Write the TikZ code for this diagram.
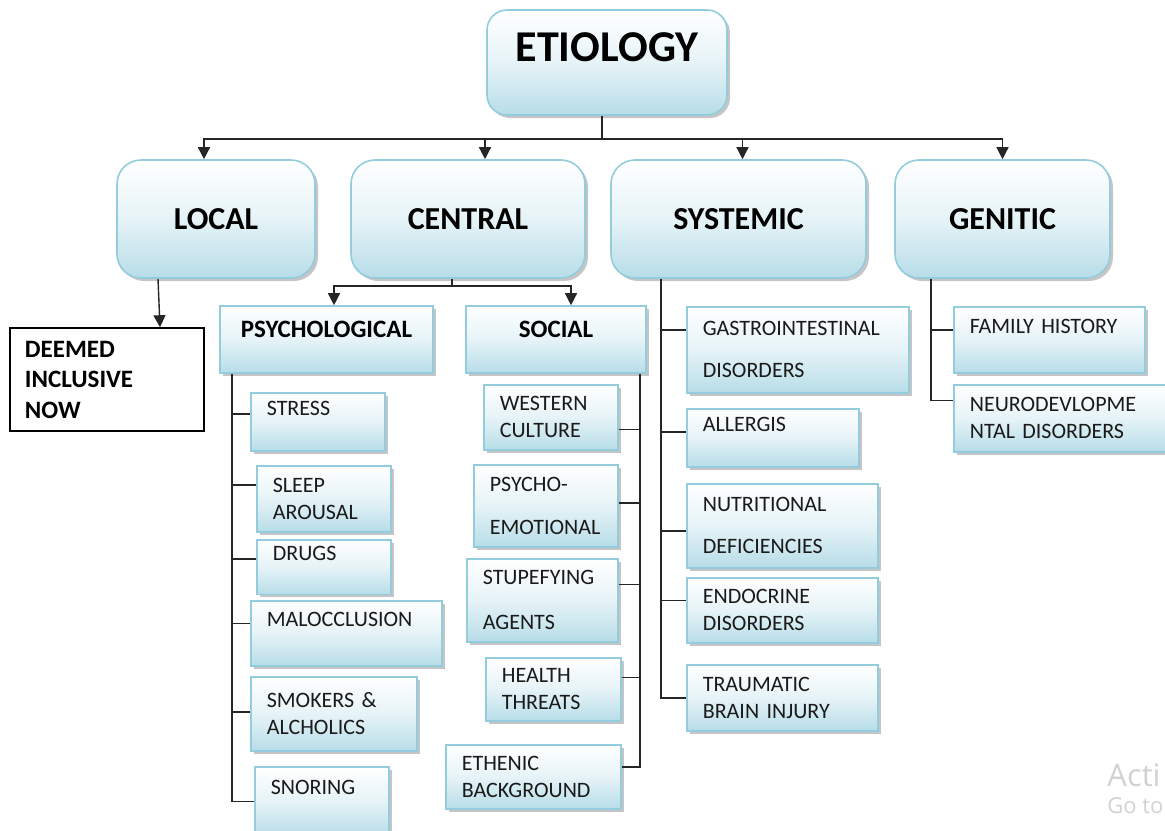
\documentclass[tikz,border=0pt]{standalone}
\usepackage{fontspec}
\setmainfont{Carlito}
\newfontfamily\wmfont{Open Sans}
\usetikzlibrary{arrows.meta,shadows}

\definecolor{boxblue}{HTML}{B7DDE8}
\definecolor{boxline}{HTML}{93CDDD}
\definecolor{leaftext}{HTML}{1A1A1A}

\tikzset{
  box/.style={draw=boxline, line width=0.8pt, top color=white, bottom color=boxblue, middle color=boxblue!35,
    drop shadow={shadow xshift=1.5pt, shadow yshift=-1.5pt, fill=black!45, opacity=0.5}},
  main/.style={box, rounded corners=12pt, minimum height=59pt, font=\fontsize{16}{19}\selectfont\bfseries},
  sub/.style={box, minimum height=33.5pt, text height=8pt, text depth=10pt, font=\fontsize{12.5}{15}\selectfont\bfseries},
  leaf/.style={box, anchor=north west, align=left, inner xsep=8pt, text=leaftext, font=\fontsize{11}{13.5}\selectfont},
  link/.style={line width=0.7pt, black!85},
  arr/.style={link, -{Triangle[length=6pt,width=6pt]}},
}

\begin{document}
\begin{tikzpicture}[x=0.5pt,y=-0.5pt]
    \useasboundingbox (0,0) rectangle (1165,830);
    \clip (0,0) rectangle (1165,830);

    \node[box, rounded corners=10pt, minimum width=120pt, minimum height=52.5pt, text height=14.2pt, text depth=15.5pt,
      font=\fontsize{22}{26}\selectfont\bfseries] (etio) at (607,62.5) {ETIOLOGY};

    \node[main, minimum width=99pt] (local) at (216,219) {LOCAL};
    \node[main, minimum width=117pt] (central) at (468,219) {CENTRAL};
    \node[main, minimum width=127.5pt] (systemic) at (738.5,219) {SYSTEMIC};
    \node[main, minimum width=107.5pt] (genitic) at (1002.5,219) {GENITIC};

    \node[draw, line width=0.8pt, fill=white, align=left, text width=82pt, inner xsep=7.5pt, minimum height=51.5pt,
      font=\fontsize{12.5}{15.25}\selectfont\bfseries] (deemed) at (107,379.5) {DEEMED\\INCLUSIVE\\NOW};

    \node[sub, minimum width=106.5pt] (psych) at (326.5,339.5) {PSYCHOLOGICAL};
    \node[sub, minimum width=90pt] (social) at (556,339.5) {SOCIAL};

    % psychological
    \node[leaf, text width=51pt, minimum height=29pt] (stress) at (250,392) {STRESS\\~};
    \node[leaf, text width=51pt, minimum height=33pt] (sleep) at (256,465) {SLEEP\\AROUSAL};
    \node[leaf, text width=51pt, minimum height=27pt] (drugs) at (256,539) {DRUGS\\~};
    \node[leaf, text width=79.5pt, minimum height=32.5pt] (malo) at (250,600) {MALOCCLUSION\\~};
    \node[leaf, text width=67pt, minimum height=37pt] (smokers) at (250,676) {SMOKERS~\&\\ALCHOLICS};
    \node[leaf, text width=51pt, minimum height=34.5pt] (snoring) at (254,766) {SNORING\\~};

    % social
    \node[leaf, text width=51pt, minimum height=32.5pt] (western) at (483,384) {WESTERN\\CULTURE};
    \node[leaf, text width=56pt, minimum height=41pt] (psyemo) at (473,464) {PSYCHO-\\[8pt]EMOTIONAL};
    \node[leaf, text width=59.5pt, minimum height=41.5pt] (stup) at (466,558) {STUPEFYING\\[9pt]AGENTS};
    \node[leaf, text width=51.5pt, minimum height=31.5pt] (health) at (485,657) {HEALTH\\THREATS};
    \node[leaf, text width=71.5pt, minimum height=32pt] (ethenic) at (445,744) {ETHENIC\\BACKGROUND};

    % systemic
    \node[leaf, text width=95pt, minimum height=43pt] (gastro) at (686,306) {GASTROINTESTINAL\\[7.5pt]DISORDERS};
    \node[leaf, text width=70pt, minimum height=29pt] (allergis) at (686,408) {ALLERGIS\\~};
    \node[leaf, text width=79.5pt, minimum height=42pt] (nutri) at (686,483) {NUTRITIONAL\\[7.5pt]DEFICIENCIES};
    \node[leaf, text width=79.5pt, minimum height=32.5pt] (endo) at (686,577) {ENDOCRINE\\DISORDERS};
    \node[leaf, text width=79.5pt, minimum height=33pt] (traum) at (686,664) {TRAUMATIC\\BRAIN~INJURY};

    % genitic
    \node[leaf, text width=79.5pt, minimum height=33pt] (family) at (953,306) {FAMILY~HISTORY\\~};
    \node[leaf, text width=94pt, minimum height=33.5pt] (neuro) at (953,384) {NEURODEVLOPME\\NTAL~DISORDERS};

    % connectors
    \draw[link] ([xshift=-2.5pt]etio.south) -- ++(0,23) coordinate (hub);
    \foreach \n/\s in {local/-6pt, central/8.5pt, systemic/2pt, genitic/0pt}
        \draw[arr] (hub) -| ([xshift=\s]\n.north);

    \draw[arr] ([xshift=-29pt]local.south) -- ([xshift=26.5pt]deemed.north);

    \draw[link] ([xshift=-8pt]central.south) -- ++(0,7) coordinate (chub);
    \draw[arr] (chub) -| ([xshift=3.75pt]psych.north);
    \draw[arr] (chub) -| ([xshift=7.5pt]social.north);

    \coordinate (ptrunk) at ([xshift=-47.25pt]psych.south);
    \draw[link] (ptrunk) |- (snoring.west);
    \foreach \n/\s in {stress/4pt, sleep/7pt, drugs/4pt, malo/5pt, smokers/1pt}
        \draw[link] ([yshift=\s]\n.west) -- ([yshift=\s]\n.west -| ptrunk);

    \coordinate (strunk) at ([xshift=42pt]social.south);
    \draw[link] (strunk) |- ([yshift=5pt]ethenic.east);
    \foreach \n/\s in {western/-6pt, psyemo/1.5pt, stup/8pt, health/6pt}
        \draw[link] ([yshift=\s]\n.east) -- ([yshift=\s]\n.east -| strunk);

    \coordinate (ytrunk) at ([xshift=-38.75pt]systemic.south);
    \draw[link] (ytrunk) |- (traum.west);
    \foreach \n/\s in {gastro/10pt, allergis/3pt, nutri/-2.5pt, endo/5pt}
        \draw[link] ([yshift=\s]\n.west) -- ([yshift=\s]\n.west -| ytrunk);

    \coordinate (gtrunk) at ([xshift=-35.75pt]genitic.south);
    \draw[link] (gtrunk) |- ([yshift=9pt]neuro.west);
    \draw[link] ([yshift=5pt]family.west) -- ([yshift=5pt]family.west -| gtrunk);

    \node[anchor=west, inner sep=0pt, text=black!18, font=\wmfont\fontsize{15.5}{15.5}\selectfont] (wm) at (1107,775) {Acti};
    \node[anchor=north west, inner sep=0pt, text=black!18, font=\wmfont\fontsize{11}{11}\selectfont] at ([yshift=-5pt]wm.south west) {Go to};
\end{tikzpicture}
\end{document}
